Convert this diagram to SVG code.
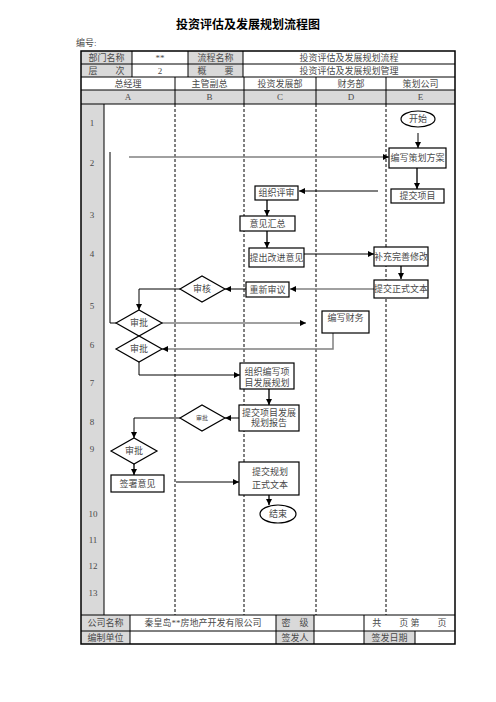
<svg xmlns="http://www.w3.org/2000/svg" width="496" height="702" viewBox="0 0 496 702">
<defs>
<marker id="ah" markerUnits="userSpaceOnUse" markerWidth="6" markerHeight="6" refX="6" refY="3" orient="auto"><path d="M0,0 L6,3 L0,6 z" fill="#000"/></marker>
<style>
text{font-family:"Liberation Serif","Noto Sans CJK SC",serif;font-size:9px;fill:#4a4a4a;text-anchor:middle;dominant-baseline:central}
.cell{fill:#d9d9d9;stroke:none}
.grid{stroke:#000;stroke-width:1;fill:none}
.lane{stroke:#000;stroke-width:1;stroke-dasharray:3,2;fill:none}
.box{fill:#fff;stroke:#000;stroke-width:1.2}
.c{fill:none;stroke:#000;stroke-width:1;marker-end:url(#ah)}
.g{fill:none;stroke:#808080;stroke-width:1.5;marker-end:url(#ah)}
.d{fill:none;stroke:#444;stroke-width:1.8;marker-end:url(#ah)}
.n{fill:none;stroke:#000;stroke-width:1}
</style>
</defs>
<rect width="496" height="702" fill="#fff"/>
<text x="248" y="25" style="font-size:12px;font-weight:bold;fill:#000">投资评估及发展规划流程图</text>
<text x="76" y="43" style="text-anchor:start">编号:</text>
<g id="header">
<rect class="cell" x="81" y="51" width="51" height="26"/>
<rect class="cell" x="188" y="51" width="55" height="26"/>
<rect class="cell" x="81" y="90" width="374" height="14"/>
<rect class="cell" x="81" y="104" width="23" height="511"/>
<rect class="cell" x="81" y="615" width="49" height="29"/>
<rect class="cell" x="276" y="615" width="38" height="29"/>
<rect class="cell" x="364" y="631" width="51" height="13"/>
<path class="grid" d="M81 64H455M81 77H455M81 90H455M81 104H455M81 615H455M81 631H455M132 51V77M188 51V77M243 51V77M175 77V104M244 77V104M316 77V104M386 77V104M104 104V615M130 615V644M276 615V644M314 615V644M364 615V644M415 631V644"/>
<rect x="81" y="51" width="374" height="593" fill="none" stroke="#000" stroke-width="1.5"/>
<text x="106.5" y="57.5">部门名称</text>
<text x="160" y="57.5">**</text>
<text x="215.5" y="57.5">流程名称</text>
<text x="349" y="57.5">投资评估及发展规划流程</text>
<text x="106.5" y="70.5">层　　次</text>
<text x="160" y="70.5">2</text>
<text x="215.5" y="70.5">概　　要</text>
<text x="349" y="70.5">投资评估及发展规划管理</text>
<text x="128" y="83.5">总经理</text>
<text x="209.5" y="83.5">主管副总</text>
<text x="280" y="83.5">投资发展部</text>
<text x="351" y="83.5">财务部</text>
<text x="420.5" y="83.5">策划公司</text>
<text x="128" y="97">A</text>
<text x="209.5" y="97">B</text>
<text x="280" y="97">C</text>
<text x="351" y="97">D</text>
<text x="420.5" y="97">E</text>
<text x="92" y="123">1</text>
<text x="92" y="163">2</text>
<text x="92" y="215">3</text>
<text x="92" y="254">4</text>
<text x="92" y="306">5</text>
<text x="92" y="345">6</text>
<text x="92" y="383">7</text>
<text x="92" y="422">8</text>
<text x="92" y="449">9</text>
<text x="93" y="514">10</text>
<text x="93" y="540">11</text>
<text x="93" y="566">12</text>
<text x="93" y="593">13</text>
<text x="105.5" y="623">公司名称</text>
<text x="203" y="623">秦皇岛**房地产开发有限公司</text>
<text x="295" y="623">密　级</text>
<text x="409.5" y="623">共　　页 第　　页</text>
<text x="105.5" y="637.5">编制单位</text>
<text x="295" y="637.5">签发人</text>
<text x="389.5" y="637.5">签发日期</text>
</g>
<g id="lanes">
<path class="lane" d="M175 104V615M244 104V615M316 104V615M386 104V615"/>
</g>
<g id="connectors">
<path class="c" d="M418 133V148"/>
<path class="g" d="M129 157H389"/>
<path class="d" d="M417 168V189"/>
<path class="c" d="M378 191H299"/>
<path class="d" d="M267 200V216"/>
<path class="d" d="M267 231V248"/>
<path class="c" d="M304 254H374"/>
<path class="d" d="M401 266V279"/>
<path class="g" d="M374 289H290"/>
<path class="c" d="M246 289H225"/>
<path class="c" d="M180 289H139V310"/>
<path class="n" d="M110 152V323H116"/>
<path class="g" d="M162 323H306"/>
<path class="g" d="M333 333V349H162"/>
<path class="c" d="M139 362V375H240"/>
<path class="d" d="M269 389V405"/>
<path class="c" d="M239 418H225"/>
<path class="c" d="M180 418H134V438"/>
<path class="d" d="M134 464V475"/>
<path class="c" d="M176 482H239"/>
<path class="d" d="M269 495V505"/>
</g>
<g id="start"><ellipse class="box" cx="418" cy="119" rx="17" ry="8"/><text x="418" y="119">开始</text></g>
<g id="write-plan"><rect class="box" x="389" y="148" width="57" height="20"/><text x="417.5" y="158">编写策划方案</text></g>
<g id="submit-project"><rect class="box" x="391" y="189" width="53" height="14"/><text x="417.5" y="196">提交项目</text></g>
<g id="org-review"><rect class="box" x="255" y="186" width="43" height="14"/><text x="276.5" y="193">组织评审</text></g>
<g id="summary"><rect class="box" x="240" y="216" width="55" height="15"/><text x="267.5" y="223.5">意见汇总</text></g>
<g id="improve"><rect class="box" x="249" y="248" width="55" height="19"/><text x="276.5" y="257.5">提出改进意见</text></g>
<g id="supplement"><rect class="box" x="374" y="247" width="54" height="19"/><text x="401" y="256.5">补充完善修改</text></g>
<g id="formal-text"><rect class="box" x="374" y="280" width="54" height="18"/><text x="401" y="289">提交正式文本</text></g>
<g id="re-review"><rect class="box" x="246" y="282" width="43" height="15"/><text x="267.5" y="289.5">重新审议</text></g>
<g id="audit"><polygon class="box" points="180,289 202,276 225,289 202,302"/><text x="202" y="289">审核</text></g>
<g id="approve1"><polygon class="box" points="116,323 139,310 162,323 139,336"/><text x="139" y="323">审批</text></g>
<g id="finance"><rect class="box" x="322" y="311" width="47" height="22"/><text x="345.5" y="318">编写财务</text></g>
<g id="approve2"><polygon class="box" points="116,349 139,336 162,349 139,362"/><text x="139" y="349">审批</text></g>
<g id="org-write"><rect class="box" x="240" y="363" width="54" height="26"/><text x="267" y="372">组织编写项</text><text x="267" y="383">目发展规划</text></g>
<g id="submit-report"><rect class="box" x="239" y="405" width="60" height="26"/><text x="269" y="413">提交项目发展</text><text x="269" y="423">规划报告</text></g>
<g id="approve3"><polygon class="box" points="180,418 202,405 225,418 202,431"/><text x="202" y="418" style="font-size:6px">审批</text></g>
<g id="approve4"><polygon class="box" points="111,451 134,438 157,451 134,464"/><text x="134" y="451">审批</text></g>
<g id="sign"><rect class="box" x="111" y="475" width="53" height="17"/><text x="137.5" y="483.5">签署意见</text></g>
<g id="submit-formal"><rect class="box" x="239" y="462" width="60" height="33"/><text x="252" y="472" style="text-anchor:start">提交规划</text><text x="252" y="485" style="text-anchor:start">正式文本</text></g>
<g id="end"><ellipse class="box" cx="278" cy="514" rx="18" ry="9"/><text x="278" y="514">结束</text></g>
</svg>
